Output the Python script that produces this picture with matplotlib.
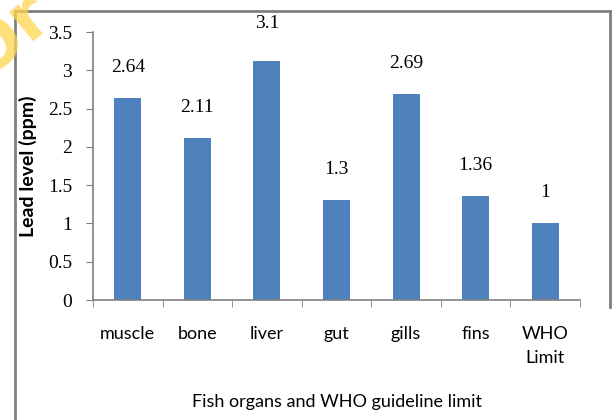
import matplotlib.pyplot as plt
from matplotlib.lines import Line2D

# wartosci
organs = ["muscle", "bone", "liver", "gut", "gills", "fins", "WHO\nLimit"]
lead = [2.64, 2.11, 3.12, 1.3, 2.69, 1.36, 1.0]
labels = ["2.64", "2.11", "3.1", "1.3", "2.69", "1.36", "1"]
yticks = [0, 0.5, 1, 1.5, 2, 2.5, 3, 3.5]
ytick_labels = ["0", "0.5", "1", "1.5", "2", "2.5", "3", "3.5"]

plt.rcParams['font.family'] = ['Lato', 'DejaVu Sans']
serif = ['Liberation Serif', 'DejaVu Serif']

fig = plt.figure(figsize=(6.13, 4.2), dpi=100)
ax = fig.add_axes([0.1517, 0.2857, 0.7945, 0.6381])

x = list(range(len(organs)))
ax.bar(x, lead, width=0.39, color="#4F81BD", zorder=2)

# etykiety nad slupkami
offsets = [16, 16, 21, 16, 16, 16, 16]
for xi, v, lab, off in zip(x, lead, labels, offsets):
    ax.annotate(lab, (xi, v), xytext=(0, off), textcoords="offset points",
                ha="center", va="bottom", fontsize=14, family=serif,
                annotation_clip=False)

ax.set_xlim(-0.5, len(organs) - 0.5)
ax.set_ylim(0, 3.5)
ax.set_yticks(yticks)
ax.set_yticklabels(ytick_labels, fontsize=14, family=serif)
ax.set_xticks(x)
ax.set_xticklabels(organs, fontsize=13, linespacing=1.6, va="top")
ax.set_xticks([i - 0.5 for i in range(len(organs) + 1)], minor=True)
ax.tick_params(axis="x", which="major", length=0, pad=19)
ax.tick_params(axis="x", which="minor", length=5, color="#808080", direction="out")
ax.tick_params(axis="y", length=5, color="#808080", pad=10)

for s in ["top", "right"]:
    ax.spines[s].set_visible(False)
for s in ["left", "bottom"]:
    ax.spines[s].set_color("#808080")
    ax.spines[s].set_linewidth(1.2)

ax.set_ylabel("Lead level (ppm)", fontsize=14, fontweight="bold", labelpad=8)
ax.set_xlabel("Fish organs and WHO guideline limit", fontsize=13, labelpad=20)

# ramka wykresu (wspolrzedne w pikselach obrazu, y od gory)
W, H = 613, 420
for xs, ys in [([15, 15], [11, 420]), ([15, 610], [11, 11]), ([610, 610], [11, 307])]:
    fig.add_artist(Line2D([v / W for v in xs], [1 - v / H for v in ys],
                          color="#7f7f7f", lw=2, zorder=5,
                          transform=fig.transFigure))

# znak wodny
fig.text(-16 / W, 1 - 80 / H, "Or", color="#FFD54F", alpha=0.75, fontsize=50,
         fontweight="bold", rotation=40, rotation_mode="anchor",
         ha="left", va="baseline", family="DejaVu Sans", zorder=6)

fig.savefig("out.png", dpi=100)
